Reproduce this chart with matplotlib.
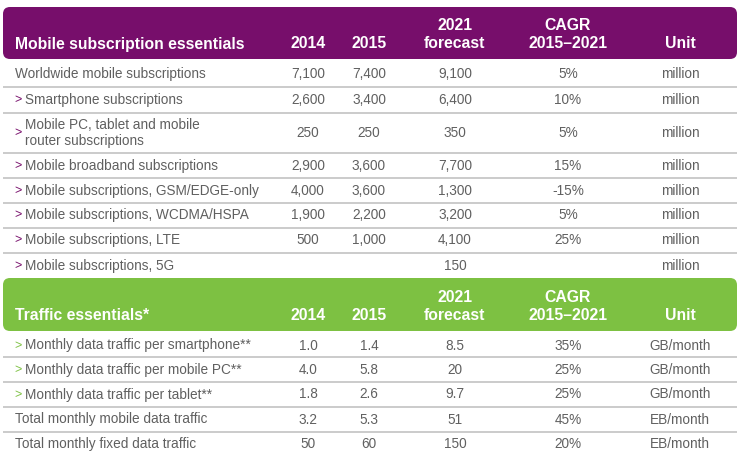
import matplotlib.pyplot as plt
from matplotlib.patches import FancyBboxPatch

plt.rcParams['font.family'] = ['Liberation Sans', 'DejaVu Sans']

# Datos de la tabla
columns = ['2014', '2015', '2021\nforecast', 'CAGR\n2015–2021', 'Unit']

sub_title = 'Mobile subscription essentials'
sub_labels = ['Worldwide mobile subscriptions',
              'Smartphone subscriptions',
              'Mobile PC, tablet and mobile\nrouter subscriptions',
              'Mobile broadband subscriptions',
              'Mobile subscriptions, GSM/EDGE-only',
              'Mobile subscriptions, WCDMA/HSPA',
              'Mobile subscriptions, LTE',
              'Mobile subscriptions, 5G']
sub_arrow = [False, True, True, True, True, True, True, True]
sub_2014 = ['7,100', '2,600', '250', '2,900', '4,000', '1,900', '500', '']
sub_2015 = ['7,400', '3,400', '250', '3,600', '3,600', '2,200', '1,000', '']
sub_2021 = ['9,100', '6,400', '350', '7,700', '1,300', '3,200', '4,100', '150']
sub_cagr = ['5%', '10%', '5%', '15%', '-15%', '5%', '25%', '']
sub_unit = ['million'] * 8

traf_title = 'Traffic essentials*'
traf_labels = ['Monthly data traffic per smartphone**',
               'Monthly data traffic per mobile PC**',
               'Monthly data traffic per tablet**',
               'Total monthly mobile data traffic',
               'Total monthly fixed data traffic']
traf_arrow = [True, True, True, False, False]
traf_2014 = ['1.0', '4.0', '1.8', '3.2', '50']
traf_2015 = ['1.4', '5.8', '2.6', '5.3', '60']
traf_2021 = ['8.5', '20', '9.7', '51', '150']
traf_cagr = ['35%', '25%', '25%', '45%', '20%']
traf_unit = ['GB/month', 'GB/month', 'GB/month', 'EB/month', 'EB/month']

# Estilo
purple = '#770e6b'
green = '#7dc142'
txt = '#606060'
line_c = '#bdbdbd'
col_x = [308, 369, 455, 568, 680]
fs_body = 9.8
fs_head = 11.3

fig = plt.figure(figsize=(7.38, 4.55), dpi=100)
ax = fig.add_axes([0, 0, 1, 1])
ax.set_xlim(0, 738)
ax.set_ylim(455, 0)
ax.axis('off')


def section(title, color, top, bottom, rows, row_y, seps):
    box = FancyBboxPatch((3, top), 734, bottom - top,
                         boxstyle='round,pad=0,rounding_size=7',
                         facecolor=color, edgecolor='none')
    ax.add_patch(box)
    yb = bottom - 15
    ax.text(15, yb, title, color='white', fontsize=fs_head,
            fontweight='bold', va='center', ha='left')
    for cx, name in zip(col_x, columns):
        parts = name.split('\n')
        if len(parts) == 2:
            ax.text(cx, yb - 18, parts[0], color='white', fontsize=fs_head,
                    fontweight='bold', va='center', ha='center')
        ax.text(cx, yb, parts[-1], color='white', fontsize=fs_head,
                fontweight='bold', va='center', ha='center')

    labels, arrows, cols = rows
    for i, y in enumerate(row_y):
        if arrows[i]:
            ax.text(14, y, '>', color=color, fontsize=fs_body - 0.8,
                    va='center', ha='left')
            ax.text(25, y, labels[i], color=txt, fontsize=fs_body,
                    va='center', ha='left', linespacing=1.12)
        else:
            ax.text(15, y, labels[i], color=txt, fontsize=fs_body,
                    va='center', ha='left')
        for cx, vals in zip(col_x, cols):
            ax.text(cx, y, vals[i], color=txt, fontsize=fs_body,
                    va='center', ha='center')
    for s in seps:
        ax.plot([3, 737], [s, s], color=line_c, lw=1.1, solid_capstyle='butt')


section(sub_title, purple, 7, 59,
        (sub_labels, sub_arrow, [sub_2014, sub_2015, sub_2021, sub_cagr, sub_unit]),
        [74, 100, 133, 166, 191, 215, 240, 266],
        [86.5, 112.5, 152.5, 177.5, 203, 228, 252.5])

section(traf_title, green, 278, 331,
        (traf_labels, traf_arrow, [traf_2014, traf_2015, traf_2021, traf_cagr, traf_unit]),
        [345.5, 370, 394.5, 419.5, 444],
        [356.5, 382, 406.5, 431.5])

fig.savefig('out.png', dpi=100)
